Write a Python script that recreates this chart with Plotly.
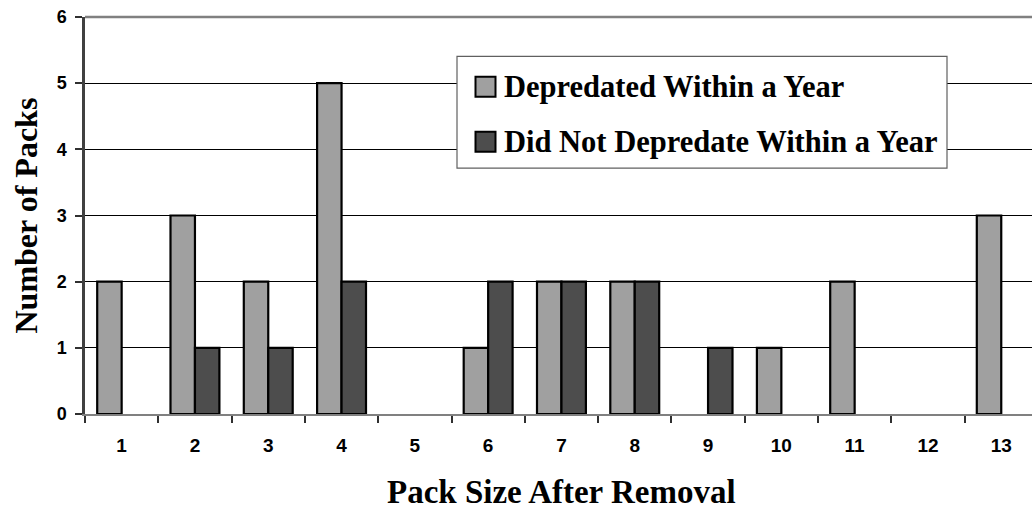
import plotly.graph_objects as go

# Pack size after removal and number of packs in each outcome group
pack_sizes = ["1", "2", "3", "4", "5", "6", "7", "8", "9", "10", "11", "12", "13"]
depredated = [2, 3, 2, 5, 0, 1, 2, 2, 0, 1, 2, 0, 3]
not_depredated = [0, 1, 1, 2, 0, 2, 2, 2, 1, 0, 0, 0, 0]
series_names = ["Depredated Within a Year", "Did Not Depredate Within a Year"]

W, H = 1032, 510
L, R, T, B = 85, 0, 16.5, 95.5
CAT_W = 73.3  # pixel width of one category band

LIGHT = "#A0A0A0"
DARK = "#4D4D4D"
SERIF = "Liberation Serif"
SANS = "Liberation Sans"

fig = go.Figure()
for name, vals, col in [(series_names[0], depredated, LIGHT),
                        (series_names[1], not_depredated, DARK)]:
    # empty groups get no bar at all (no outline sitting on the axis)
    shown = [v if v else None for v in vals]
    fig.add_trace(go.Bar(
        x=pack_sizes, y=shown, name=name,
        marker=dict(color=col, line=dict(color="black", width=2.2)),
        showlegend=False,
    ))

plot_w = W - L - R
x_hi = -0.5 + plot_w / CAT_W

fig.update_layout(
    width=W, height=H,
    margin=dict(l=L, r=R, t=T, b=B),
    paper_bgcolor="white", plot_bgcolor="white",
    barmode="group", bargap=0.333, bargroupgap=0,
    xaxis=dict(
        type="category", range=[-0.5, x_hi],
        tickson="boundaries", ticks="outside", ticklen=7, tickwidth=1.5,
        tickcolor="#303030",
        showline=True, linecolor="#808080", linewidth=2,
        showgrid=False,
        tickfont=dict(family=SANS, size=19, color="black", weight="bold"),
        ticklabelstandoff=13,
    ),
    yaxis=dict(
        range=[0, 6], dtick=1, tick0=0,
        ticks="outside", ticklen=7, tickwidth=1.5, tickcolor="#303030",
        showline=True, linecolor="#404040", linewidth=2.5,
        showgrid=True, gridcolor="black", gridwidth=1,
        zeroline=False,
        tickfont=dict(family=SANS, size=18, color="black", weight="bold"),
        ticklabelstandoff=5,
    ),
)

def px_x(p):
    return (p - L) / plot_w

def px_y(p):
    return 1 - (p - T) / (H - T - B)

shapes = [
    # top border of the plotting area
    dict(type="line", xref="paper", yref="paper", x0=0, x1=1, y0=1, y1=1,
         line=dict(color="#808080", width=2.5), layer="above"),
    # legend frame
    dict(type="rect", xref="paper", yref="paper",
         x0=px_x(457), x1=px_x(947), y0=px_y(168), y1=px_y(56),
         fillcolor="white", line=dict(color="#606060", width=1.2), layer="above"),
]
legend_rows = [(86.5, LIGHT, series_names[0]), (141.5, DARK, series_names[1])]
annotations = []
for cy, col, label in legend_rows:
    shapes.append(dict(type="rect", xref="paper", yref="paper",
                       x0=px_x(475.5), x1=px_x(495.5),
                       y0=px_y(cy + 10), y1=px_y(cy - 10),
                       fillcolor=col, line=dict(color="black", width=2),
                       layer="above"))
    annotations.append(dict(xref="paper", yref="paper", x=px_x(502), y=px_y(cy),
                            xanchor="left", yanchor="middle", showarrow=False,
                            text=f"<b>{label}</b>",
                            font=dict(family=SERIF, size=30.5, color="black")))

# axis titles
annotations.append(dict(xref="paper", yref="paper", x=px_x(561), y=px_y(493),
                        xanchor="center", yanchor="middle", showarrow=False,
                        text="<b>Pack Size After Removal</b>",
                        font=dict(family=SERIF, size=33, color="black")))
annotations.append(dict(xref="paper", yref="paper", x=px_x(25), y=px_y(215.5),
                        xanchor="center", yanchor="middle", showarrow=False,
                        textangle=-90,
                        text="<b>Number of Packs</b>",
                        font=dict(family=SERIF, size=32, color="black")))

fig.update_layout(shapes=shapes, annotations=annotations)
fig.write_html("out.html")
